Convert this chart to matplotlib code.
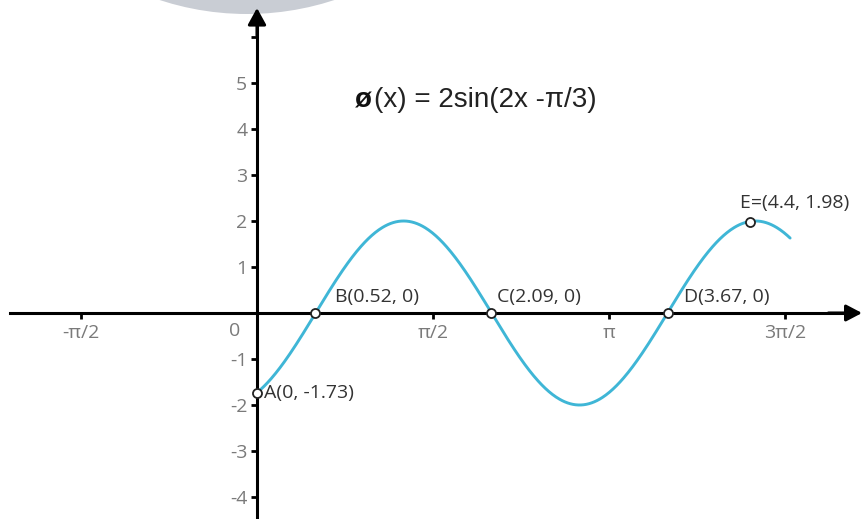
import numpy as np
import matplotlib
matplotlib.use("Agg")
import matplotlib.pyplot as plt
from matplotlib.patches import Ellipse

# ---- data ----
amplitude = 2.0
frequency = 2.0
phase = np.pi / 3
x_start, x_end = 0.0, 4.76

point_names = ["A", "B", "C", "D", "E"]
point_x = [0.0, 0.52, 2.09, 3.67, 4.4]
point_y = [-1.73, 0.0, 0.0, 0.0, 1.98]
point_labels = ["A(0, -1.73)", "B(0.52, 0)", "C(2.09, 0)", "D(3.67, 0)", "E=(4.4, 1.98)"]

xtick_vals = [-np.pi / 2, np.pi / 2, np.pi, 3 * np.pi / 2]
xtick_labels = ["-\u03c0/2", "\u03c0/2", "\u03c0", "3\u03c0/2"]
ytick_vals = [-4, -3, -2, -1, 1, 2, 3, 4, 5, 6]
ytick_labels = ["-4", "-3", "-2", "-1", "1", "2", "3", "4", "5", ""]

# ---- layout ----
W, H = 866, 519
PX_X, PX_Y = 112.0, 46.0      # pixels per unit
OX, OY = 257.0, 313.0         # origin in pixels

fig = plt.figure(figsize=(W / 100, H / 100), dpi=100)
fig.patch.set_facecolor("white")

# decoration remnant at the top edge (behind the axes)
fig.add_artist(Ellipse((247 / W, 1 + 266 / H), 560 / W, 560 / H,
                       transform=fig.transFigure, facecolor="#c9cdd4",
                       edgecolor="none", zorder=0))

ax = fig.add_axes([0, 0, 1, 1], zorder=1)
ax.set_xlim(-OX / PX_X, (W - OX) / PX_X)
ax.set_ylim(-(H - OY) / PX_Y, OY / PX_Y)
ax.patch.set_visible(False)

for s in ["top", "right"]:
    ax.spines[s].set_visible(False)
ax.spines["left"].set_position(("data", 0))
ax.spines["bottom"].set_position(("data", 0))
ax.spines["left"].set_linewidth(2.2)
ax.spines["bottom"].set_linewidth(2.2)
x_left = (10 - OX) / PX_X
x_tip = (862 - OX) / PX_X
y_tip = (OY - 8) / PX_Y
y_bottom = -(H - OY) / PX_Y - 0.1
ax.spines["bottom"].set_bounds(x_left, x_tip - 0.1)
ax.spines["left"].set_bounds(y_bottom, y_tip - 0.2)

# arrow heads
ax.annotate("", xy=(x_tip, 0), xytext=(x_tip - 0.3, 0),
            arrowprops=dict(arrowstyle="-|>,head_length=0.95,head_width=0.5",
                            color="black", lw=2.2, shrinkA=0, shrinkB=0,
                            mutation_scale=10))
ax.annotate("", xy=(0, y_tip), xytext=(0, y_tip - 0.6),
            arrowprops=dict(arrowstyle="-|>,head_length=1.0,head_width=0.55",
                            color="black", lw=2.2, shrinkA=0, shrinkB=0,
                            mutation_scale=10))

tick_color = "#7a7a7a"
ax.set_xticks(xtick_vals)
ax.set_xticklabels(xtick_labels)
ax.set_yticks(ytick_vals)
ax.set_yticklabels(ytick_labels)
ax.tick_params(axis="x", direction="out", length=4, width=2, pad=4,
               labelsize=14, labelcolor=tick_color, color="black")
ax.tick_params(axis="y", direction="out", length=4, width=2, pad=3,
               labelsize=14, labelcolor=tick_color, color="black")
for lab in ax.get_xticklabels() + ax.get_yticklabels():
    lab.set_fontfamily("Open Sans")

ax.text(-0.15, -0.2, "0", ha="right", va="top", fontsize=14,
        color=tick_color, family="Open Sans")

# curve
xs = np.linspace(x_start, x_end, 600)
ys = amplitude * np.sin(frequency * xs - phase)
ax.plot(xs, ys, color="#3fb6d6", lw=2.1, solid_capstyle="round", zorder=3)

# points
ax.plot(point_x, point_y, "o", ms=6.5, mfc="white", mec="#222222", mew=1.3,
        zorder=5, clip_on=False)

offsets = [(7, 0), (20, 16), (6, 16), (16, 16), (-10, 19)]
for xv, yv, lab, off in zip(point_x, point_y, point_labels, offsets):
    ax.annotate(lab, xy=(xv, yv), xytext=off, textcoords="offset pixels",
                ha="left", va="center", fontsize=14, color="#333333",
                family="Open Sans", zorder=6)

# formula
ty = (OY - 100) / PX_Y
ax.text((355 - OX) / PX_X, ty, "\u00f8", ha="left", va="center",
        fontsize=20, fontweight="bold", color="#111111", family="Liberation Sans")
ax.text((374 - OX) / PX_X, ty, "(x) = 2sin(2x -\u03c0/3)", ha="left", va="center",
        fontsize=20, color="#222222", family="Liberation Sans")

fig.text(92 / W, 1 + 5 / H, "p", ha="left", va="baseline", fontsize=16,
         family="DejaVu Serif", color="black")

fig.savefig("out.png", dpi=100, facecolor="white")
